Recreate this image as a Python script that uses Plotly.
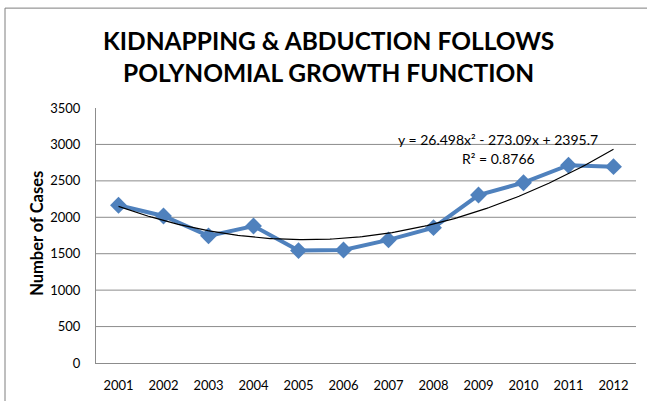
import numpy as np
import plotly.graph_objects as go

years = ["2001", "2002", "2003", "2004", "2005", "2006",
         "2007", "2008", "2009", "2010", "2011", "2012"]
cases = [2165, 2018, 1745, 1880, 1543, 1550, 1690, 1858, 2305, 2475, 2715, 2695]
y_ticks = [0, 500, 1000, 1500, 2000, 2500, 3000, 3500]
trend_coef = [26.498, -273.09, 2395.7]  # y = a x^2 + b x + c, x = 1..12
r_squared = 0.8766

BLUE = "#4F81BD"
GRID = "#8C8C8C"
FONT = "Lato, 'Open Sans', sans-serif"

# smooth trendline from the displayed polynomial
xs = np.linspace(1, len(years), 200)
ys = np.polyval(trend_coef, xs)
xs_cat = xs - 1  # categorical positions (0-based)

fig = go.Figure()

fig.add_trace(go.Scatter(
    x=list(range(len(years))), y=cases, mode="lines+markers",
    line=dict(color=BLUE, width=4),
    marker=dict(symbol="diamond", size=13, color=BLUE),
    showlegend=False, hoverinfo="y",
))
fig.add_trace(go.Scatter(
    x=xs_cat, y=ys, mode="lines",
    line=dict(color="black", width=1.2),
    showlegend=False, hoverinfo="skip",
))

shapes = []
for v in y_ticks[1:-1]:
    shapes.append(dict(type="line", xref="paper", yref="y", x0=0, x1=1, y0=v, y1=v,
                       line=dict(color=GRID, width=1), layer="below"))
# outer chart border
L, T, W, H = 96, 108, 540, 255.3
shapes.append(dict(type="rect", xref="paper", yref="paper",
                   x0=(5 - L) / W, x1=(660 - L) / W,
                   y0=(363.3 - 420) / H, y1=(363.3 - 8) / H,
                   line=dict(color="#7F7F7F", width=1)))

eq = f"y = {trend_coef[0]}x² - {abs(trend_coef[1])}x + {trend_coef[2]}"
annotations = [
    dict(text="<b>KIDNAPPING &amp; ABDUCTION FOLLOWS<br>POLYNOMIAL GROWTH FUNCTION</b>",
         xref="paper", yref="paper", x=(328 - L) / W, y=(363.3 - 56) / H,
         showarrow=False, font=dict(family=FONT, size=24.5, color="black"),
         xanchor="center", yanchor="middle"),
    dict(text=eq, xref="paper", yref="paper", x=(498 - L) / W, y=(363.3 - 140) / H,
         showarrow=False, font=dict(family=FONT, size=14, color="black"),
         xanchor="center", yanchor="middle"),
    dict(text=f"R² = {r_squared}", xref="paper", yref="paper", x=(498 - L) / W,
         y=(363.3 - 159) / H, showarrow=False,
         font=dict(family=FONT, size=14, color="black"),
         xanchor="center", yanchor="middle"),
    dict(text="<b>Number of Cases</b>", xref="paper", yref="paper",
         x=(37 - L) / W, y=(363.3 - 234) / H, textangle=-90, showarrow=False,
         font=dict(family=FONT, size=16.5, color="black"),
         xanchor="center", yanchor="middle"),
]

fig.update_layout(
    width=647, height=401,
    margin=dict(l=96, r=11, t=108, b=38, autoexpand=False),
    paper_bgcolor="white", plot_bgcolor="white",
    shapes=shapes, annotations=annotations,
    font=dict(family=FONT, size=13, color="black"),
    xaxis=dict(
        tickmode="array", tickvals=list(range(len(years))), ticktext=years,
        range=[-0.5, len(years) - 0.5], showgrid=False, zeroline=False,
        showline=True, linecolor=GRID, linewidth=1, ticks="",
        ticklabelstandoff=10, automargin=False,
        tickfont=dict(family=FONT, size=13, color="black"),
    ),
    yaxis=dict(
        range=[0, 3500], tickvals=y_ticks, showgrid=False, zeroline=False,
        showline=True, linecolor=GRID, linewidth=1, ticks="",
        ticklabelstandoff=12, automargin=False,
        tickfont=dict(family=FONT, size=13, color="black"),
    ),
)

fig.write_html("out.html")
